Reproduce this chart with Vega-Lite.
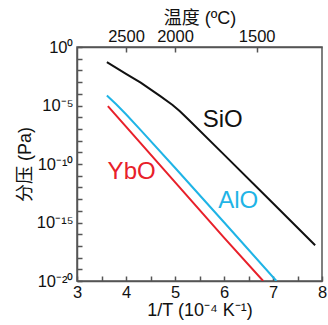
{
  "$schema": "https://vega.github.io/schema/vega-lite/v6.json",
  "width": 245,
  "height": 234,
  "autosize": "none",
  "padding": {"left": 77, "top": 47, "right": 6, "bottom": 44},
  "config": {
    "font": "Liberation Sans, Noto Sans CJK SC",
    "view": {"stroke": "#555555", "strokeWidth": 1.5},
    "axis": {
      "domainColor": "#555555",
      "tickColor": "#555555",
      "domainWidth": 1.5,
      "tickWidth": 1.5,
      "grid": false,
      "labelFontSize": 16.5,
      "titleFontSize": 18,
      "labelColor": "#111111",
      "titleColor": "#111111",
      "titleFontWeight": "normal",
      "tickSize": -5
    }
  },
  "datasets": {
    "curves": [
      {"species": "SiO", "x": 3.61, "p": 5.012e-2},
      {"species": "SiO", "x": 4.0, "p": 5.012e-3},
      {"species": "SiO", "x": 4.3, "p": 8.913e-4},
      {"species": "SiO", "x": 4.7, "p": 6.310e-5},
      {"species": "SiO", "x": 4.95, "p": 1.122e-5},
      {"species": "SiO", "x": 5.1, "p": 3.162e-6},
      {"species": "SiO", "x": 5.3, "p": 5.012e-7},
      {"species": "SiO", "x": 6.0, "p": 6.310e-10},
      {"species": "SiO", "x": 7.0, "p": 4.467e-14},
      {"species": "SiO", "x": 7.86, "p": 1.122e-17},
      {"species": "AlO", "x": 3.61, "p": 7.079e-5},
      {"species": "AlO", "x": 3.8, "p": 1.259e-5},
      {"species": "AlO", "x": 4.0, "p": 1.778e-6},
      {"species": "AlO", "x": 4.3, "p": 7.943e-8},
      {"species": "AlO", "x": 5.0, "p": 4.786e-11},
      {"species": "AlO", "x": 6.0, "p": 1.047e-15},
      {"species": "AlO", "x": 7.07, "p": 1e-20},
      {"species": "YbO", "x": 3.63, "p": 8.913e-6},
      {"species": "YbO", "x": 4.0, "p": 1.585e-7},
      {"species": "YbO", "x": 5.0, "p": 2.818e-12},
      {"species": "YbO", "x": 6.0, "p": 5.012e-17},
      {"species": "YbO", "x": 6.8, "p": 1e-20}
    ],
    "labels": [
      {"species": "SiO", "x": 5.975, "p": 5.37e-7},
      {"species": "YbO", "x": 4.115, "p": 2.0e-11},
      {"species": "AlO", "x": 6.29, "p": 6.31e-14}
    ]
  },
  "layer": [
    {
      "data": {"name": "curves"},
      "mark": {"type": "line", "strokeWidth": 2, "clip": true},
      "encoding": {
        "x": {
          "field": "x",
          "type": "quantitative",
          "scale": {"domain": [3, 8], "nice": false, "zero": false},
          "axis": {
            "orient": "bottom",
            "values": [3, 3.5, 4, 4.5, 5, 5.5, 6, 6.5, 7, 7.5, 8],
            "labelExpr": "datum.value % 1 == 0 ? format(datum.value, 'd') : ''",
            "labelFlush": false,
            "labelOverlap": false,
            "labelPadding": 8,
            "title": "1/T (10⁻⁴ K⁻¹)",
            "titlePadding": 1
          }
        },
        "y": {
          "field": "p",
          "type": "quantitative",
          "scale": {"type": "log", "domain": [1e-20, 1], "nice": false},
          "axis": {
            "orient": "left",
            "values": [1e-20, 1e-19, 1e-18, 1e-17, 1e-16, 1e-15, 1e-14, 1e-13, 1e-12, 1e-11, 1e-10, 1e-9, 1e-8, 1e-7, 1e-6, 1e-5, 1e-4, 1e-3, 1e-2, 1e-1, 1],
            "labelExpr": "round(log(datum.value)/LN10) == 0 ? '10⁰' : round(log(datum.value)/LN10) == -5 ? '10⁻⁵' : round(log(datum.value)/LN10) == -10 ? '10⁻¹⁰' : round(log(datum.value)/LN10) == -15 ? '10⁻¹⁵' : round(log(datum.value)/LN10) == -20 ? '10⁻²⁰' : ''",
            "labelOverlap": false,
            "labelFlush": false,
            "labelPadding": 9,
            "title": "分压 (Pa)",
            "titlePadding": 2
          }
        },
        "color": {
          "field": "species",
          "type": "nominal",
          "scale": {"domain": ["SiO", "AlO", "YbO"], "range": ["#111111", "#1fb4e6", "#e8202a"]},
          "legend": null
        }
      }
    },
    {
      "data": {"name": "labels"},
      "mark": {"type": "text", "fontSize": 24, "align": "center", "baseline": "middle"},
      "encoding": {
        "x": {
          "field": "x",
          "type": "quantitative",
          "scale": {"domain": [3, 8], "nice": false, "zero": false},
          "axis": {
            "orient": "top",
            "values": [4, 5, 6.6667],
            "labelExpr": "datum.value < 4.5 ? '2500' : datum.value < 5.5 ? '2000' : '1500'",
            "labelFlush": false,
            "labelPadding": 8,
            "title": "温度 (ºC)",
            "titlePadding": 1
          }
        },
        "y": {"field": "p", "type": "quantitative", "axis": null},
        "text": {"field": "species"},
        "color": {
          "field": "species",
          "type": "nominal",
          "legend": null
        }
      }
    }
  ],
  "resolve": {"axis": {"x": "independent", "y": "independent"}}
}
